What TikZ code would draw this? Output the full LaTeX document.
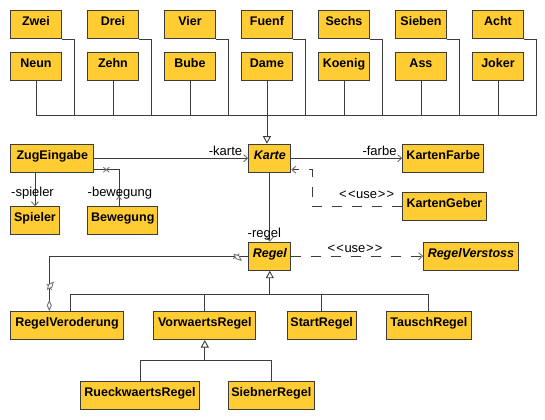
\documentclass[tikz,border=0pt]{standalone}
\usepackage{fontspec}
\setmainfont{Liberation Sans}
\usetikzlibrary{arrows.meta,calc,decorations.markings}
\definecolor{boxc}{RGB}{255,204,51}
\definecolor{linec}{RGB}{60,60,60}
\definecolor{tipc}{RGB}{110,110,110}
\newcommand{\umlX}{\draw[tipc,line width=0.8bp,solid] (-3bp,-2.5bp) -- (3bp,2.5bp) (-3bp,2.5bp) -- (3bp,-2.5bp);}
\newcommand{\usetxt}{\textless\kern1.2bp\textless\kern0.6bp use\kern0.6bp\textgreater\kern1.2bp\textgreater}
\tikzset{
  x=1bp, y=-1bp,
  cls/.style={draw=linec, fill=boxc, line width=1bp, anchor=north west, minimum height=28bp,
    inner sep=0pt, text height=15bp, text depth=13bp, font=\fontsize{12.5bp}{14bp}\selectfont\bfseries},
  abscls/.style={cls, font=\fontsize{12.5bp}{14bp}\selectfont\bfseries\itshape},
  conn/.style={draw=linec, line width=0.9bp},
  nav/.style={conn, -{Straight Barb[length=4bp,width=7bp,color=tipc]}},
  dep/.style={nav, dash pattern=on 10bp off 10bp},
  inh/.style={conn, -{Triangle[open,length=7.5bp,width=8bp,fill=white]}},
  lbl/.style={font=\fontsize{13bp}{14bp}\selectfont, inner sep=0pt, text=black},
}
\begin{document}
\begin{tikzpicture}
\useasboundingbox[fill=white] (0,0) rectangle (545,419);
% top rows
\foreach \nm/\i in {Zwei/0,Drei/1,Vier/2,Fuenf/3,Sechs/4,Sieben/5,Acht/6}{
  \node[cls, minimum width=50.3bp] (\nm) at (10.3+77*\i,10.3) {\nm};
}
\foreach \nm/\i in {Neun/0,Zehn/1,Bube/2,Dame/3,Koenig/4,Ass/5,Joker/6}{
  \node[cls, minimum width=50.3bp] (\nm) at (10.3+77*\i,52.3) {\nm};
}
% middle
\node[cls, minimum width=83bp] (ZugEingabe) at (10.3,143.7) {ZugEingabe};
\node[abscls, minimum width=42bp] (Karte) at (248.3,143.7) {Karte};
\node[cls, minimum width=81bp] (KartenFarbe) at (402.3,143.7) {KartenFarbe};
\node[cls, minimum width=48.4bp] (Spieler) at (10.3,206.3) {Spieler};
\node[cls, minimum width=70bp] (Bewegung) at (87.3,206.3) {Bewegung};
\node[cls, minimum width=83.4bp] (KartenGeber) at (402.3,192.3) {KartenGeber};
\node[abscls, minimum width=42bp] (Regel) at (248.3,241.7) {Regel};
\node[abscls, minimum width=94.3bp] (RegelVerstoss) at (423.3,241.7) {RegelVerstoss};
% bottom
\node[cls, minimum width=112.4bp] (RegelVeroderung) at (10.3,311) {RegelVeroderung};
\node[cls, minimum width=102bp] (VorwaertsRegel) at (153.3,311) {VorwaertsRegel};
\node[cls, minimum width=69bp] (StartRegel) at (286.7,311) {StartRegel};
\node[cls, minimum width=84.7bp] (TauschRegel) at (386,311) {TauschRegel};
\node[cls, minimum width=118.4bp] (RueckwaertsRegel) at (80.3,381) {RueckwaertsRegel};
\node[cls, minimum width=86.4bp] (SiebnerRegel) at (227.6,381) {SiebnerRegel};

% card generalization bus
\coordinate (busL) at ($(Neun.south)+(0,34.6)$);
\foreach \nm in {Zwei,Drei,Vier,Fuenf,Sechs,Sieben,Acht}{
  \draw[conn] (\nm.south east) -- ++(12.7,0) |- (busL);
}
\foreach \nm in {Neun,Zehn,Bube,Koenig,Ass,Joker}{
  \draw[conn] (\nm.south) -- (\nm.south |- busL);
}
\draw[inh] (Dame.south) -- (Dame.south |- Karte.north);

% associations
\draw[nav] (ZugEingabe.east) -- (ZugEingabe.east -| Karte.west);
\draw[nav] (Karte.east) -- (Karte.east -| KartenFarbe.west);
\draw[nav] (Spieler.north |- ZugEingabe.south) -- (Spieler.north);
\coordinate (bwTop) at ($(Bewegung.north west)+(31.7,0)$);
\coordinate (zgR) at ($(ZugEingabe.south east)+(0,-3)$);
\draw[conn, decoration={markings, mark=at position 9.6bp with {\umlX}, mark=at position -12bp with {\umlX}}, postaction={decorate}]
  (bwTop) |- (zgR);
\draw[nav] (Karte.south) -- (Regel.north);
\draw[dep] (Regel.east) -- (Regel.east -| RegelVerstoss.west);
\coordinate (kgC) at ($(Karte.south east)+(20.7,-3)$);
\coordinate (kaR) at ($(Karte.south east)+(0,-3)$);
\draw[dep] (KartenGeber.west) -| (kgC) -- (kaR);
\coordinate (rvTop) at ($(RegelVeroderung.north west)+(39,0)$);
\draw[conn, -{Diamond[open,length=11bp,width=5bp,color=tipc,fill=white]},
  decoration={markings, mark=at position 12bp with {\umlX}, mark=at position -24bp with {\umlX}}, postaction={decorate}]
  (Regel.west) -| (rvTop);

% rule generalizations
\coordinate (y294) at (0,294);
\coordinate (y360) at (0,360);
\draw[inh] (Regel.south |- y294) -- (Regel.south);
\draw[conn] ($(RegelVeroderung.north west)+(60,0)$) |- (TauschRegel.north |- y294) -- (TauschRegel.north);
\draw[conn] (VorwaertsRegel.north) -- (VorwaertsRegel.north |- y294);
\draw[conn] (StartRegel.north) -- (StartRegel.north |- y294);
\draw[inh] (VorwaertsRegel.south |- y360) -- (VorwaertsRegel.south);
\draw[conn] (RueckwaertsRegel.north) |- (SiebnerRegel.north |- y360) -- (SiebnerRegel.north);

% labels
\node[lbl, anchor=base east] (lkarte) at (242.3,155) {-karte};
\node[lbl, anchor=base east] (lfarbe) at (396.7,155) {-farbe};
\node[lbl, anchor=base west] (lspieler) at (11,196.5) {-spieler};
\node[lbl, anchor=base west] (lbewegung) at (87.5,196.5) {-bewegung};
\node[lbl, anchor=base west] (lregel) at (247.5,237.7) {-regel};
\node[lbl, anchor=base] (luse1) at (366.7,198.5) {\usetxt};
\node[lbl, anchor=base] (luse2) at (355,252.5) {\usetxt};
\end{tikzpicture}
\end{document}
